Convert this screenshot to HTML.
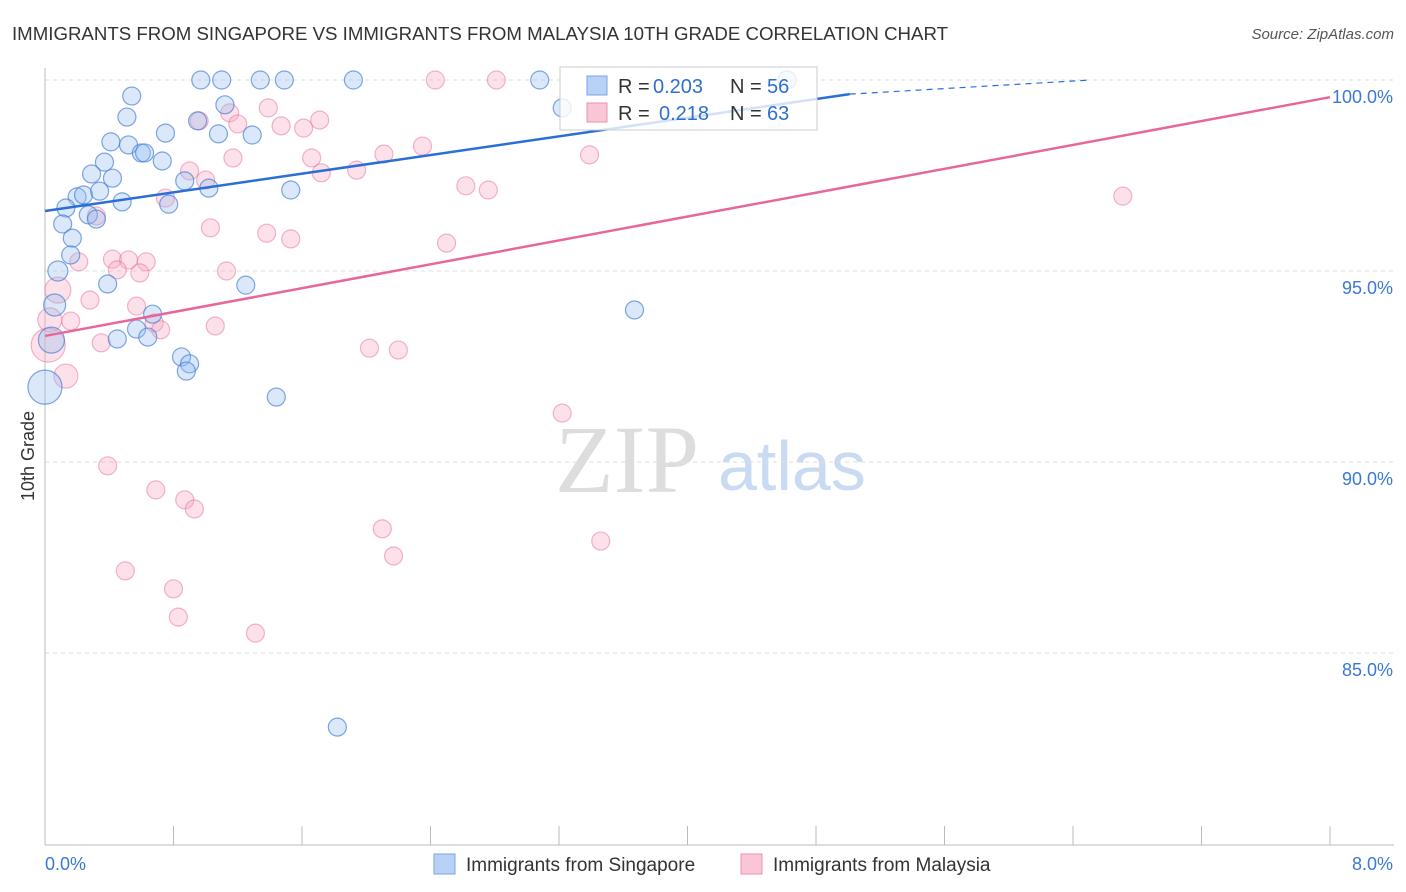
<!DOCTYPE html>
<html><head><meta charset="utf-8"><style>
body{margin:0;background:#fff;font-family:"Liberation Sans",sans-serif}
svg{display:block}
</style></head><body>
<svg id="chart" width="1406" height="892">
<text x="12" y="40" font-size="18" fill="#333" textLength="936" lengthAdjust="spacingAndGlyphs">IMMIGRANTS FROM SINGAPORE VS IMMIGRANTS FROM MALAYSIA 10TH GRADE CORRELATION CHART</text>
<text x="1394" y="39" font-size="15" fill="#555" font-style="italic" text-anchor="end">Source: ZipAtlas.com</text>
<text x="34" y="456" font-size="18" fill="#333" text-anchor="middle" transform="rotate(-90 34 456)">10th Grade</text>
<text x="555" y="492" font-size="96" fill="#ddd" font-family="Liberation Serif,serif">ZIP</text>
<text x="718" y="490" font-size="70" fill="#c9dbf3">atlas</text>
<g id="grid"></g><g id="pts"></g><g id="trend"></g>
<g>
<rect x="560" y="67" width="257" height="63" fill="#fff" fill-opacity="0.8" stroke="#ccc"/>
<rect x="587" y="76" width="20" height="19" fill="#b9d1f5" stroke="#7aa5e6"/>
<text x="618" y="93" font-size="20" fill="#333">R =</text>
<text x="653" y="93" font-size="20" fill="#2f6fd0">0.203</text>
<text x="730" y="93" font-size="20" fill="#333">N =</text>
<text x="767" y="93" font-size="20" fill="#2f6fd0">56</text>
<rect x="587" y="103" width="20" height="19" fill="#f9c6d6" stroke="#ec90ad"/>
<text x="618" y="120" font-size="20" fill="#333">R =</text>
<text x="659" y="120" font-size="20" fill="#2f6fd0">0.218</text>
<text x="730" y="120" font-size="20" fill="#333">N =</text>
<text x="767" y="120" font-size="20" fill="#2f6fd0">63</text>
</g>
<g>
<rect x="434" y="854" width="21" height="20" fill="#b9d1f5" stroke="#7aa5e6"/>
<text x="466" y="871" font-size="19" fill="#333">Immigrants from Singapore</text>
<rect x="741" y="854" width="21" height="20" fill="#f9c6d6" stroke="#ec90ad"/>
<text x="773" y="871" font-size="19" fill="#333">Immigrants from Malaysia</text>
</g>
</svg>
<script>
const xTicks=[0,0.8,1.6,2.4,3.2,4.0,4.8,5.6,6.4,7.2,8];
const yTicks=[100,95,90,85];
const blueX=[0.97,1.10,1.34,1.49,1.92,3.08,4.62,0.54,1.12,0.51,0.95,0.41,0.75,1.08,1.29,0.52,0.60,0.62,0.73,0.37,0.29,0.42,0.87,1.02,1.53,0.20,0.24,0.34,0.48,0.13,0.77,0.27,0.32,0.11,0.17,0.16,0.08,0.39,1.25,0.06,0.57,0.67,0.45,0.64,0.85,0.90,0.88,1.44,3.67,3.22,1.82,0.00,0.04];
const blueY=[100,100,100,100,100,100,100,99.58,99.35,99.03,98.93,98.38,98.61,98.59,98.56,98.30,98.09,98.09,97.88,97.85,97.54,97.43,97.36,97.17,97.12,96.94,96.99,97.09,96.81,96.65,96.75,96.47,96.36,96.23,95.86,95.42,95.00,94.66,94.63,94.11,93.48,93.87,93.22,93.27,92.75,92.57,92.38,91.70,93.98,99.27,83.06,91.96,93.19];
const blueR={51:17,52:13,36:10,39:11};
const pinkX=[2.43,2.81,0.96,1.15,1.39,1.20,1.47,1.61,1.71,1.17,1.66,1.72,1.94,2.11,2.35,2.62,2.76,3.39,0.90,1.00,0.75,0.32,1.03,1.38,1.53,2.50,0.21,0.42,0.52,0.63,0.45,0.59,1.13,0.08,0.28,0.57,0.68,0.72,1.06,0.16,0.35,2.02,2.20,0.03,0.02,0.13,0.39,0.69,0.87,0.93,0.50,0.80,0.83,1.31,2.10,2.17,3.46,3.22,6.71];
const pinkY=[100,100,98.93,99.14,99.27,98.85,98.80,98.74,98.95,97.96,97.96,97.57,97.64,98.06,98.27,97.23,97.12,98.04,97.62,97.38,96.91,96.44,96.13,95.99,95.84,95.73,95.24,95.31,95.29,95.24,95.03,94.95,95.00,94.50,94.24,94.08,93.64,93.46,93.56,93.69,93.12,92.98,92.93,93.72,93.06,92.25,89.90,89.27,89.01,88.77,87.15,86.68,85.94,85.52,88.25,87.54,87.93,91.28,96.96];
const pinkR={33:13,43:12,44:17,45:12};
const blueTrend=[[0,96.57],[5.01,99.63]];
const blueDash=[[5.01,99.63],[6.51,100]];
const pinkTrend=[[0,93.30],[8,99.55]];
const NS="http://www.w3.org/2000/svg";
const X=v=>45+v*160.625, Y=v=>80+(100-v)*38.2;
function mk(t,a,p){const e=document.createElementNS(NS,t);for(const k in a)e.setAttribute(k,a[k]);p.appendChild(e);return e;}
const grid=document.getElementById('grid');
yTicks.forEach(t=>{const l=mk('line',{x1:45,x2:1394,y1:Y(t),y2:Y(t),stroke:'#ddd','stroke-dasharray':'4,4'},grid);


const tx=mk('text',{x:1393,y:Y(t)+23,'font-size':18,fill:'#3a78d4','text-anchor':'end'},grid);tx.textContent=t.toFixed(1)+'%';

});
const ax=mk('line',{x1:45,x2:45,y1:68,y2:845,stroke:'#bbb'},grid);


const bx=mk('line',{x1:45,x2:1394,y1:845,y2:845,stroke:'#bbb'},grid);


xTicks.forEach(t=>{const l=mk('line',{x1:X(t),x2:X(t),y1:826,y2:845,stroke:'#bbb'},grid);

});
[[0,'start'],[8,'end']].forEach(([t,a])=>{const tx=mk('text',{x:a=='start'?X(t):1393,y:870,'font-size':18,fill:'#3a78d4','text-anchor':a},grid);tx.textContent=t.toFixed(1)+'%';

});
const pts=document.getElementById('pts');
pinkX.forEach((v,i)=>{const c=mk('circle',{cx:X(v),cy:Y(pinkY[i]),r:pinkR[i]||9,fill:'rgba(246,170,196,0.35)',stroke:'rgba(232,120,160,0.55)','stroke-width':1.2},pts);

});
blueX.forEach((v,i)=>{const c=mk('circle',{cx:X(v),cy:Y(blueY[i]),r:blueR[i]||9,fill:'rgba(150,190,240,0.35)',stroke:'rgba(60,120,210,0.65)','stroke-width':1.2},pts);

});
const tr=document.getElementById('trend');
const l1=mk('line',{x1:X(blueTrend[0][0]),y1:Y(blueTrend[0][1]),x2:X(blueTrend[1][0]),y2:Y(blueTrend[1][1]),stroke:'#2a6fd6','stroke-width':2.5},tr);


const l2=mk('line',{x1:X(blueDash[0][0]),y1:Y(blueDash[0][1]),x2:X(blueDash[1][0]),y2:Y(blueDash[1][1]),stroke:'#2a6fd6','stroke-width':1.2,'stroke-dasharray':'6,5'},tr);


const l3=mk('line',{x1:X(pinkTrend[0][0]),y1:Y(pinkTrend[0][1]),x2:X(pinkTrend[1][0]),y2:Y(pinkTrend[1][1]),stroke:'#e8679a','stroke-width':2.5},tr);


</script>
</body></html>
